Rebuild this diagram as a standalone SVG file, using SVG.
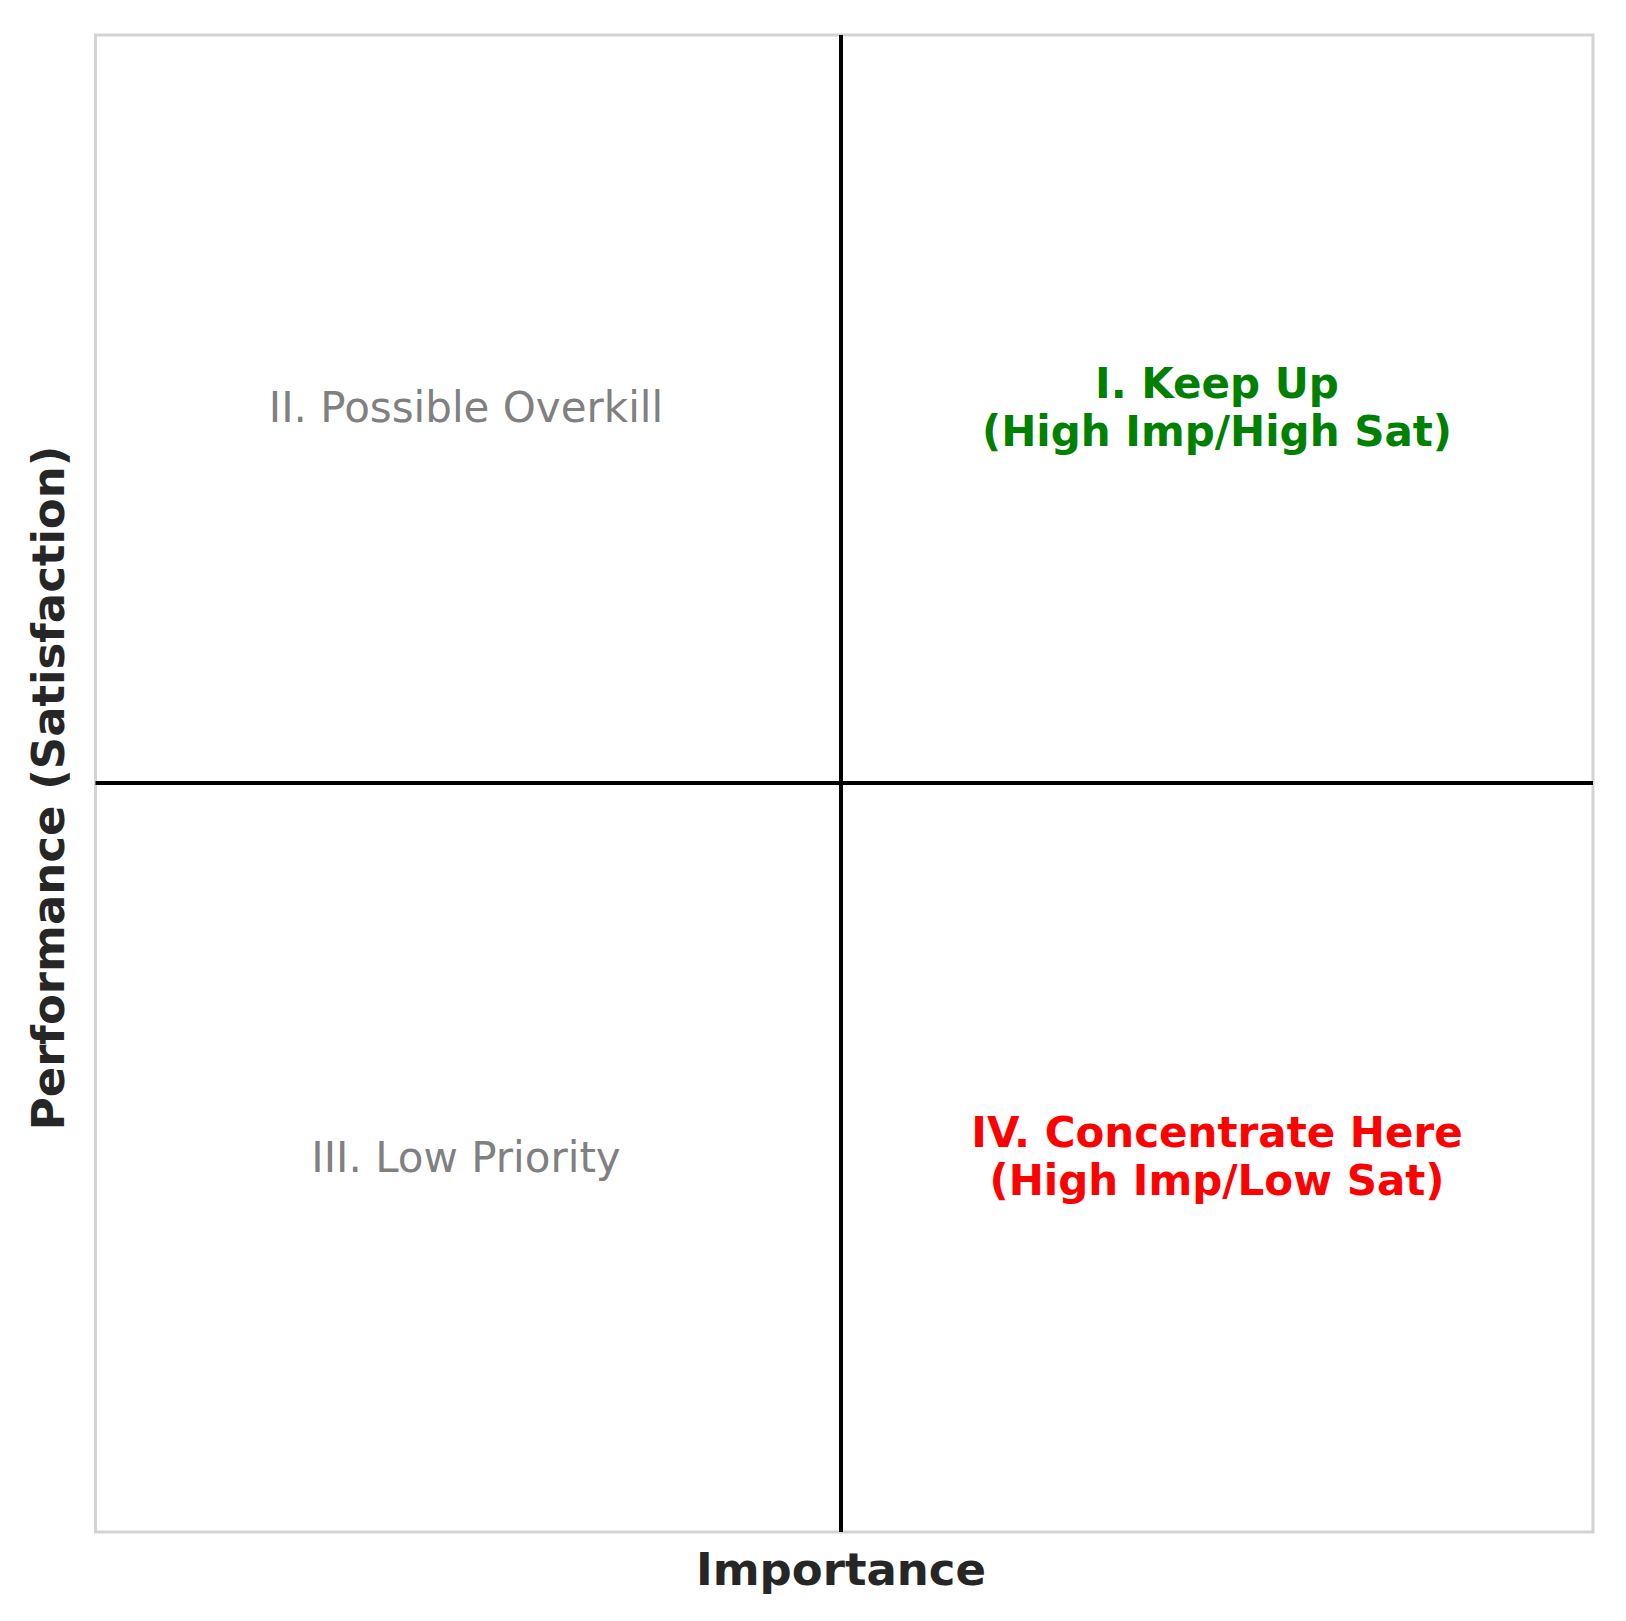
<svg xmlns="http://www.w3.org/2000/svg" width="1626" height="1621" viewBox="0 0 1626 1621">
<style>
.frame{fill:none;stroke:#d3d3d3;stroke-width:3}
.axis{stroke:#000;stroke-width:4}
.q{font-family:"DejaVu Sans",sans-serif;font-size:42px;text-anchor:middle}
.gray{fill:#808080}
.green{fill:#008000;font-weight:bold}
.red{fill:#ff0000;font-weight:bold}
.lab{font-family:"DejaVu Sans",sans-serif;font-size:45px;font-weight:bold;fill:#262626;text-anchor:middle}
</style>
<rect width="1626" height="1621" fill="#fff"/>
<rect id="frame" class="frame" x="95.5" y="35" width="1497.5" height="1497"/>
<g id="connectors">
<line class="axis" x1="841" y1="35" x2="841" y2="1532"/>
<line class="axis" x1="95.5" y1="783" x2="1593" y2="783"/>
</g>
<g id="q2"><text class="q gray" x="466" y="422">II. Possible Overkill</text></g>
<g id="q1"><text class="q green" x="1217" y="398">I. Keep Up</text><text class="q green" x="1217" y="446">(High Imp/High Sat)</text></g>
<g id="q3"><text class="q gray" x="466" y="1172">III. Low Priority</text></g>
<g id="q4"><text class="q red" x="1217" y="1147">IV. Concentrate Here</text><text class="q red" x="1217" y="1195">(High Imp/Low Sat)</text></g>
<g id="xlabel"><text class="lab" x="841" y="1585">Importance</text></g>
<g id="ylabel"><text class="lab" x="64" y="788" font-size="46.4" transform="rotate(-90 64 788)">Performance (Satisfaction)</text></g>
</svg>
